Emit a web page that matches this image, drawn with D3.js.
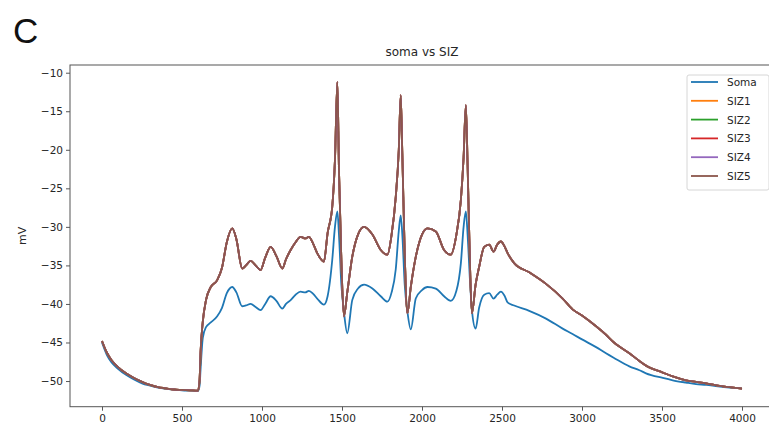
<!DOCTYPE html>
<html>
<head>
<meta charset="utf-8">
<script src="https://cdn.jsdelivr.net/npm/d3@7"></script>
<style>
  html, body { margin: 0; padding: 0; background: #fff; }
  svg { display: block; }
  text { font-family: "DejaVu Sans", sans-serif; fill: #262626; }
</style>
</head>
<body>
<div id="chart"></div>
<script>
// Sample times (ms)
const timeMs = [
  0, 30, 60, 100, 150, 200, 250, 300, 350, 400, 450, 500, 550, 600,
  610, 616, 630, 650, 680, 720, 750, 780, 814, 840, 876, 900, 929, 960, 991,
  1020, 1054, 1090, 1127, 1150, 1179, 1210, 1241, 1270, 1293, 1320, 1345, 1387,
  1410, 1439, 1456, 1471, 1481, 1496, 1512, 1533, 1564, 1600, 1638, 1690, 1742, 1784,
  1810, 1836, 1855, 1867, 1877, 1892, 1909, 1930, 1961, 2000, 2034, 2086, 2138, 2180,
  2215, 2243, 2260, 2274, 2285, 2300, 2312, 2335, 2357, 2389, 2420, 2447, 2470, 2493,
  2515, 2535, 2576, 2670, 2775, 2879, 2941, 3000, 3088, 3150, 3200, 3296, 3359, 3400,
  3505, 3567, 3650, 3713, 3776, 3850, 3922, 4000
];

// Somatic membrane potential (mV)
const somaMv = [
  -45.0, -46.6, -47.6, -48.4, -49.2, -49.8, -50.3, -50.6, -50.85, -51.0, -51.1, -51.2, -51.25, -51.3,
  -50.6, -48.5, -44.4, -43.0, -42.4, -41.6, -40.5, -38.6, -37.8, -38.5, -40.3, -40.2, -40.0, -40.4, -40.8,
  -40.0, -39.0, -39.6, -40.6, -40.0, -39.5, -38.8, -38.4, -38.5, -38.3, -38.7, -39.3, -40.1,
  -39.0, -34.3, -30.0, -28.0, -31.0, -37.5, -41.0, -43.8, -39.5, -38.0, -37.5, -38.0, -39.0, -39.7,
  -38.5, -35.5, -30.5, -28.5, -31.0, -37.5, -41.0, -43.3, -39.3, -38.2, -37.8, -38.0, -39.0, -39.6,
  -38.3, -34.7, -30.0, -28.0, -31.0, -37.0, -40.8, -43.2, -40.5, -38.8, -38.6, -39.3, -38.8, -38.4,
  -38.9, -39.8, -40.2, -40.9, -41.9, -43.2, -43.9, -44.6, -45.6, -46.4, -47.0, -48.1, -48.6, -49.0,
  -49.6, -49.9, -50.2, -50.4, -50.5, -50.7, -50.85, -50.95
];

// Spike-initiation-zone membrane potential (mV); SIZ1–SIZ5 coincide
const sizMv = [
  -44.8, -46.3, -47.3, -48.2, -49.0, -49.6, -50.1, -50.5, -50.8, -50.95, -51.1, -51.15, -51.2, -51.25,
  -49.8, -46.3, -42.3, -39.5, -37.8, -36.9, -35.3, -32.0, -30.2, -31.6, -35.4, -35.0, -34.4, -35.0, -35.6,
  -34.0, -32.6, -33.8, -35.4, -34.2, -33.0, -32.0, -31.3, -31.5, -31.3, -32.2, -33.4, -34.5,
  -30.8, -27.4, -21.3, -11.2, -22.6, -34.3, -41.6, -38.5, -33.9, -31.0, -30.0, -31.0, -33.0, -33.6,
  -31.0, -26.1, -20.0, -12.9, -20.5, -33.5, -41.2, -37.8, -33.9, -31.0, -30.2, -30.6, -33.0, -33.6,
  -31.0, -26.5, -21.0, -14.2, -22.0, -35.0, -41.2, -37.5, -35.2, -32.6, -32.3, -33.2, -32.3, -31.9,
  -32.5, -33.4, -34.7, -35.9, -37.4, -39.3, -40.7, -41.5, -42.9, -44.0, -45.0, -46.4, -47.4, -48.0,
  -48.9, -49.4, -49.9, -50.1, -50.3, -50.6, -50.8, -51.0
];

const seriesNames = ["Soma", "SIZ1", "SIZ2", "SIZ3", "SIZ4", "SIZ5"];
const seriesValues = [somaMv, sizMv, sizMv, sizMv, sizMv, sizMv];
const seriesColors = ["#1f77b4", "#ff7f0e", "#2ca02c", "#d62728", "#9467bd", "#8c564b"];

const xTicks = [0, 500, 1000, 1500, 2000, 2500, 3000, 3500, 4000];
const yTicks = [-50, -45, -40, -35, -30, -25, -20, -15, -10];

const W = 769, H = 430;
const plot = { left: 70, right: 774, top: 65, bottom: 406.7 };

const svg = d3.select("#chart").append("svg")
  .attr("width", W).attr("height", H);

const x = d3.scaleLinear().domain([-200, 4200]).range([plot.left, plot.right]);
const y = d3.scaleLinear().domain([-53.33, -9.0]).range([plot.bottom, plot.top]);

const fmt = d => (d < 0 ? "\u2212" + Math.abs(d) : String(d));

// Panel letter
svg.append("text").attr("x", 13).attr("y", 43)
  .style("font-family", "'Liberation Sans', Arial, sans-serif")
  .style("font-size", "35px").style("fill", "#111").text("C");

// Title
svg.append("text").attr("x", (plot.left + plot.right) / 2).attr("y", 56)
  .attr("text-anchor", "middle").style("font-size", "12px").text("soma vs SIZ");

// Traces
const line = d3.line()
  .x((d, i) => x(timeMs[i]))
  .y(d => y(d))
  .curve(d3.curveMonotoneX);

const traces = svg.append("g");
seriesValues.forEach((vals, k) => {
  traces.append("path")
    .datum(vals)
    .attr("d", line)
    .attr("fill", "none")
    .attr("stroke", seriesColors[k])
    .attr("stroke-width", 1.8)
    .attr("stroke-linejoin", "round");
});

// Axes
const xAxis = d3.axisBottom(x).tickValues(xTicks).tickFormat(fmt).tickSize(4).tickPadding(4);
const yAxis = d3.axisLeft(y).tickValues(yTicks).tickFormat(fmt).tickSize(4).tickPadding(3);

const gx = svg.append("g").attr("transform", `translate(0,${plot.bottom})`).call(xAxis);
const gy = svg.append("g").attr("transform", `translate(${plot.left},0)`).call(yAxis);
[gx, gy].forEach(g => {
  g.select(".domain").remove();
  g.selectAll(".tick line").attr("stroke", "#444").attr("stroke-width", 0.9);
  g.selectAll(".tick text").style("font-size", "10.5px").style("font-family", "'DejaVu Sans', sans-serif").attr("fill", "#333");
});

// Frame
svg.append("rect")
  .attr("x", plot.left).attr("y", plot.top)
  .attr("width", plot.right - plot.left).attr("height", plot.bottom - plot.top)
  .attr("fill", "none").attr("stroke", "#555").attr("stroke-width", 1);

// Y label
svg.append("text")
  .attr("transform", `translate(26,${(plot.top + plot.bottom) / 2}) rotate(-90)`)
  .attr("text-anchor", "middle").style("font-size", "11px").text("mV");

// Legend
const leg = svg.append("g").attr("transform", "translate(687,75)");
leg.append("rect").attr("width", 82).attr("height", 115).attr("rx", 2)
  .attr("fill", "#fff").attr("fill-opacity", 0.8)
  .attr("stroke", "#d6d6d6").attr("stroke-width", 1);
seriesNames.forEach((name, k) => {
  const yy = 7 + k * 18.8;
  leg.append("line").attr("x1", 4).attr("x2", 31).attr("y1", yy).attr("y2", yy)
    .attr("stroke", seriesColors[k]).attr("stroke-width", 1.8);
  leg.append("text").attr("x", 40).attr("y", yy + 4)
    .style("font-size", "10.5px").text(name);
});
</script>
</body>
</html>
